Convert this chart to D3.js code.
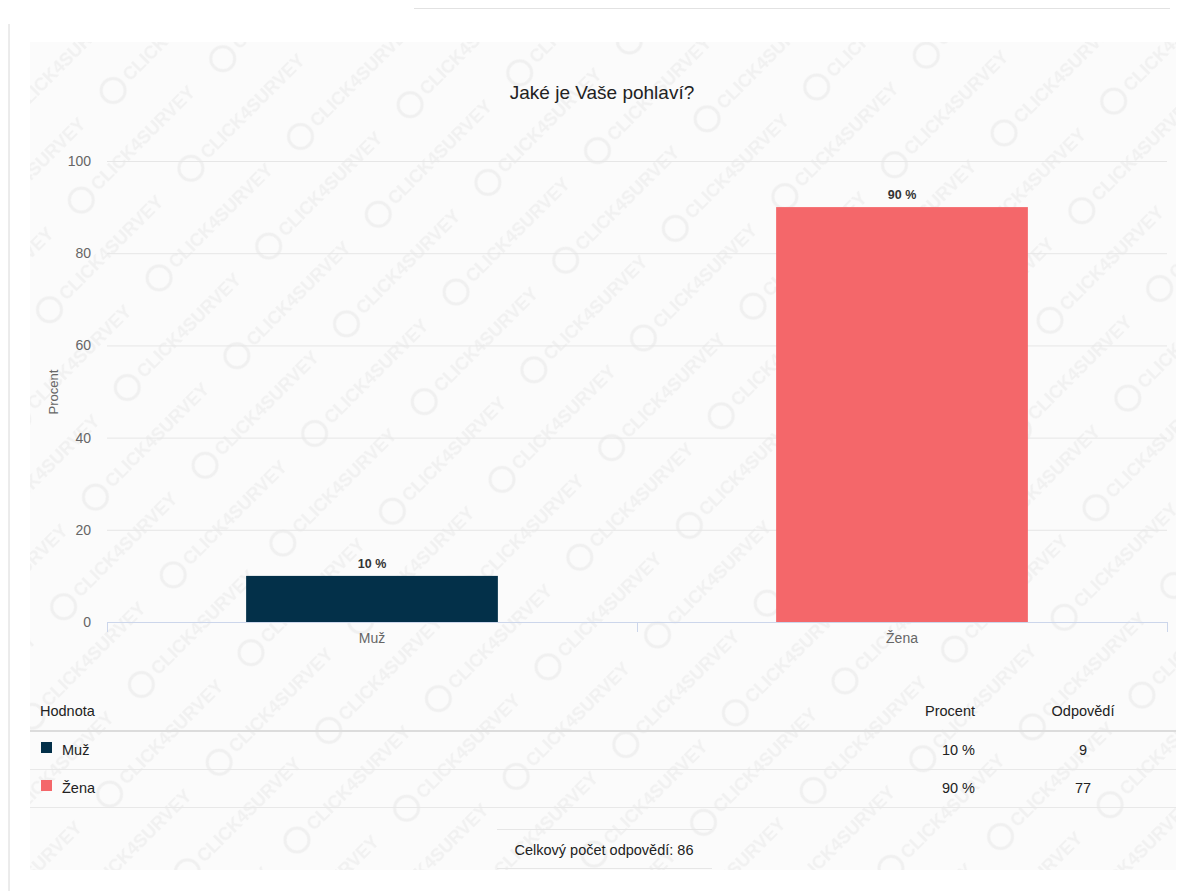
<!DOCTYPE html>
<html><head><meta charset="utf-8">
<script src="https://cdn.jsdelivr.net/npm/d3@7"></script>
<style>
html,body{margin:0;padding:0;background:#fff;}
svg{display:block;font-family:"Liberation Sans",Arial,sans-serif;}
</style></head>
<body>
<svg id="c" width="1184" height="891"></svg>
<script>
const title = "Jaké je Vaše pohlaví?";
const categories = ["Muž", "Žena"];
const percents = [10, 90];
const counts = [9, 77];
const colors = ["#033049", "#f4676a"];
const yTicks = [0, 20, 40, 60, 80, 100];
const yAxisTitle = "Procent";
const tableHeaders = ["Hodnota", "Procent", "Odpovědí"];
const totalLabel = "Celkový počet odpovědí: 86";

(function(){
const svg = d3.select("#c");

// frame lines
svg.append("line").attr("x1",9).attr("x2",9).attr("y1",24).attr("y2",891).attr("stroke","#d8d8d8");
svg.append("line").attr("x1",414).attr("x2",1170).attr("y1",8.5).attr("y2",8.5).attr("stroke","#e2e2e2");

// panel with watermark
const PW = 200, PH = 110;
const defs = svg.append("defs");
const pat = defs.append("pattern").attr("id","wm").attr("patternUnits","userSpaceOnUse")
  .attr("width",PW).attr("height",PH).attr("patternTransform","rotate(-45)");
pat.append("rect").attr("width",PW).attr("height",PH).attr("fill","#fbfbfb");
const wmRows = [[0,40],[100,95]];
wmRows.forEach(([dx,dy])=>{
  [dx, dx-PW].forEach(ox=>{
    pat.append("circle").attr("cx",ox+16).attr("cy",dy-6).attr("r",12).attr("fill","none").attr("stroke","#f0f0f0").attr("stroke-width",3);
    pat.append("text").attr("x",ox+34).attr("y",dy).attr("font-size",18).attr("font-weight","bold")
      .attr("fill","#f1f1f1").text("CLICK4SURVEY");
  });
});
svg.append("rect").attr("x",30).attr("y",42).attr("width",1146).attr("height",828).attr("fill","url(#wm)");

// title
svg.append("text").attr("x",602).attr("y",99).attr("text-anchor","middle")
  .attr("font-size",19).attr("fill","#222").text(title);

const pLeft=107, pRight=1167, pTop=161, pBottom=622;
const y = d3.scaleLinear().domain([0,100]).range([pBottom, pTop]);
const x = d3.scaleBand().domain(categories).range([pLeft,pRight]).paddingInner(0.525).paddingOuter(0.2625);

// grid
const yAxis = svg.append("g").attr("transform",`translate(${pLeft},0)`)
  .call(d3.axisLeft(y).tickValues(yTicks).tickSize(-(pRight-pLeft)).tickPadding(16));
yAxis.select(".domain").remove();
yAxis.selectAll(".tick line").attr("stroke","#e6e6e6");
yAxis.selectAll(".tick text").attr("font-size",14).attr("fill","#666").attr("font-family","Liberation Sans, Arial, sans-serif");

svg.append("text").attr("transform","translate(58,392) rotate(-90)").attr("text-anchor","middle")
  .attr("font-size",13).attr("fill","#666").text(yAxisTitle);

// x axis
const xAxisG = svg.append("g").attr("transform",`translate(0,${pBottom})`)
  .call(d3.axisBottom(x).tickSize(0).tickPadding(11));
xAxisG.select(".domain").attr("stroke","#ccd6eb").attr("d",`M${pLeft},0.5H${pRight}`);
xAxisG.selectAll(".tick text").attr("font-size",14).attr("fill","#666").attr("font-family","Liberation Sans, Arial, sans-serif");
const bounds = [pLeft, (pLeft+pRight)/2, pRight];
svg.append("g").selectAll("line").data(bounds).join("line")
  .attr("x1",d=>d+0.5).attr("x2",d=>d+0.5).attr("y1",pBottom).attr("y2",pBottom+10).attr("stroke","#ccd6eb");

// bars
svg.append("g").selectAll("rect").data(categories).join("rect")
  .attr("x",d=>x(d)).attr("width",x.bandwidth())
  .attr("y",(d,i)=>y(percents[i])).attr("height",(d,i)=>pBottom-y(percents[i]))
  .attr("fill",(d,i)=>colors[i]);
svg.append("g").selectAll("text").data(categories).join("text")
  .attr("x",d=>x(d)+x.bandwidth()/2).attr("y",(d,i)=>y(percents[i])-8)
  .attr("text-anchor","middle").attr("font-size",12.5).attr("font-weight","bold").attr("fill","#333")
  .text((d,i)=>percents[i]+" %");

// table
const tFont = 14.5;
svg.append("text").attr("x",40).attr("y",716).attr("font-size",tFont).attr("fill","#222").text(tableHeaders[0]);
svg.append("text").attr("x",975).attr("y",716).attr("text-anchor","end").attr("font-size",tFont).attr("fill","#222").text(tableHeaders[1]);
svg.append("text").attr("x",1083).attr("y",716).attr("text-anchor","middle").attr("font-size",tFont).attr("fill","#222").text(tableHeaders[2]);
svg.append("line").attr("x1",30).attr("x2",1176).attr("y1",731).attr("y2",731).attr("stroke","#dcdcdc").attr("stroke-width",2);
const rowY = [755, 793];
categories.forEach((c,i)=>{
  const ry = rowY[i];
  svg.append("rect").attr("x",41).attr("y",ry-13).attr("width",11).attr("height",11).attr("fill",colors[i]);
  svg.append("text").attr("x",62).attr("y",ry).attr("font-size",tFont).attr("fill","#222").text(c);
  svg.append("text").attr("x",975).attr("y",ry).attr("text-anchor","end").attr("font-size",tFont).attr("fill","#222").text(percents[i]+" %");
  svg.append("text").attr("x",1083).attr("y",ry).attr("text-anchor","middle").attr("font-size",tFont).attr("fill","#222").text(counts[i]);
  svg.append("line").attr("x1",30).attr("x2",1176).attr("y1",ry+14.5).attr("y2",ry+14.5).attr("stroke","#e8e8e8");
});

// total
svg.append("line").attr("x1",497).attr("x2",712).attr("y1",829.5).attr("y2",829.5).attr("stroke","#e6e6e6");
svg.append("line").attr("x1",497).attr("x2",712).attr("y1",868.5).attr("y2",868.5).attr("stroke","#e6e6e6");
svg.append("text").attr("x",604).attr("y",855).attr("text-anchor","middle").attr("font-size",tFont).attr("fill","#222").text(totalLabel);
})();
</script>
</body></html>
